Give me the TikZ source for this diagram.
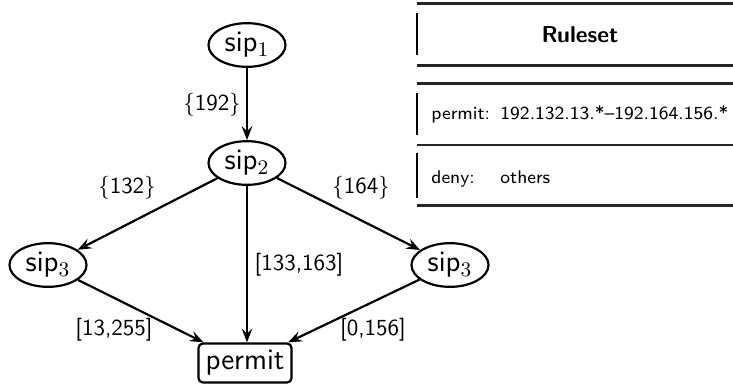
\RequirePackage{fix-cm}
\documentclass[tikz,border=0pt]{standalone}
\usepackage{fontspec}
\usetikzlibrary{arrows.meta,shapes.geometric}
\begin{document}
\begin{tikzpicture}[x=0.435pt,y=-0.435pt,
  every node/.style={font=\sffamily},
  sipnode/.style={ellipse,draw,line width=0.95pt,inner sep=0pt,minimum width=33.5pt,minimum height=19pt,font=\sffamily\fontsize{12.9}{15}\selectfont},
  leafnode/.style={rectangle,draw,line width=0.95pt,rounded corners=2pt,inner sep=0pt,minimum width=40.5pt,minimum height=17pt,font=\sffamily\fontsize{12.9}{15}\selectfont},
  edgelbl/.style={font=\sffamily\fontsize{10}{12}\selectfont,inner sep=1pt},
  arc/.style={line width=0.95pt,-{Stealth[length=6pt,width=4.6pt,inset=2.2pt]}},
  rule/.style={line width=0.9pt,draw=black!85},
  vrule/.style={line width=0.75pt},
  rowtxt/.style={font=\sffamily\fontsize{8}{10}\selectfont,anchor=base west,inner sep=0pt}
]
\useasboundingbox (0,0) rectangle (733,385);
% graph
\node[sipnode] (s1) at (247,45) {sip$_1$};
\node[sipnode] (s2) at (247,163) {sip$_2$};
\node[sipnode] (s3l) at (48,265) {sip$_3$};
\node[sipnode] (s3r) at (450,265) {sip$_3$};
\node[leafnode] (p) at (245,363) {permit};
\draw[arc] (s1) -- (s2);
\draw[arc] (s2) -- (s3l);
\draw[arc] (s2) -- (s3r);
\draw[arc] (s2.south) -- (p.north -| s2.south);
\draw[arc] (s3l) -- (p);
\draw[arc] (s3r) -- (p);
\node[edgelbl] (l192) at (212,105) {$\{$192$\}$};
\node[edgelbl] (l132) at (127,188) {$\{$132$\}$};
\node[edgelbl] (l164) at (361,188) {$\{$164$\}$};
\node[edgelbl] (l133) at (299,265) {[133,163]};
\node[edgelbl] (l13) at (114,330) {[13,255]};
\node[edgelbl] (l0) at (373,330) {[0,156]};
% ruleset table
\coordinate (tl) at (417,3);
\draw[rule] (417,3.5) -- (733,3.5);
\draw[vrule] (417,12.5) -- (417,55);
\node[font=\sffamily\bfseries\fontsize{10}{12}\selectfont] (title) at (580,35) {Ruleset};
\draw[rule] (417,65.5) -- (733,65.5);
\draw[rule] (417,83.5) -- (733,83.5);
\draw[vrule] (417,92.5) -- (417,135);
\node[rowtxt] (r1a) at (431,119) {permit:};
\node[rowtxt] (r1b) at (500,119) {192.132.13.*--192.164.156.*};
\draw[rule] (417,145) -- (733,145);
\draw[vrule] (417,152.5) -- (417,197.5);
\node[rowtxt] (r2a) at (431,183) {deny:};
\node[rowtxt] (r2b) at (500,183) {others};
\draw[rule] (417,205.5) -- (733,205.5);
\end{tikzpicture}
\end{document}
